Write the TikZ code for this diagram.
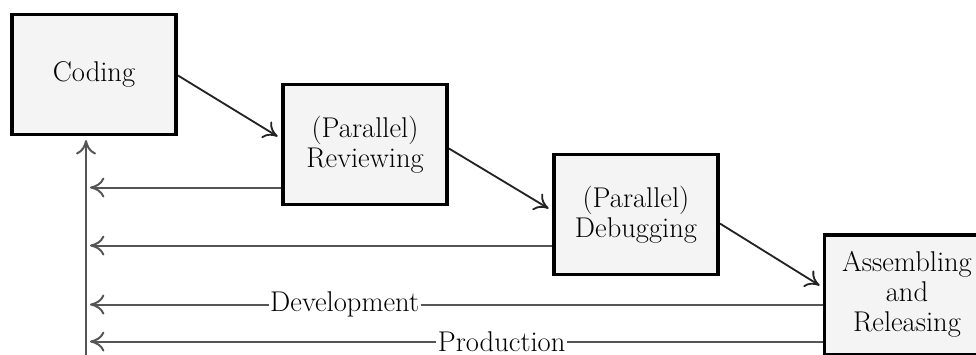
\documentclass[tikz,border=0pt]{standalone}
\usepackage{tikz}
\usetikzlibrary{
  arrows.meta,
  positioning,
  calc
}
\definecolor{StageFill}{RGB}{244,244,244}
\definecolor{FlowGray}{RGB}{35,35,35}
\definecolor{BackGray}{RGB}{85,85,85}
\tikzset{
  stage/.style={
    draw=black,
    fill=StageFill,
    line width=2.5pt,
    minimum width=4.11cm,
    minimum height=2.99cm,
    align=center,
    inner sep=0pt,
    font=\fontsize{20.3}{21.5}\selectfont
  },
  flow/.style={-{Computer Modern Rightarrow[length=3.4mm,width=4.8mm]},line width=1.3pt,draw=FlowGray,shorten >=0.1cm},
  feedback/.style={-{Computer Modern Rightarrow[length=3.6mm,width=5mm]},line width=1.4pt,draw=BackGray,shorten >=0.1cm},
  tag/.style={fill=white,inner xsep=1pt,inner ysep=0pt,font=\fontsize{20.3}{21.5}\selectfont}
}

\begin{document}
\begin{tikzpicture}[x=0.025cm,y=-0.025cm,node distance=2.575cm]
  \useasboundingbox (0,0) rectangle (976,355);
  \clip (0,0) rectangle (976,355);

  \node[stage] (coding) at (94,74.5) {Coding};
  \node[stage, right=of coding, yshift=-1.75cm] (review) {(Parallel)\\Reviewing};
  \node[stage, right=of review, yshift=-1.75cm] (debug) {(Parallel)\\Debugging};
  \node[stage, right=of debug, yshift=-2cm] (release) {Assembling\\and\\Releasing};

  % forward steps
  \draw[flow] ($(coding.east)+(0,1)$) -- ($(review.west)+(0,-6)$);
  \draw[flow] ($(review.east)+(0,4)$) -- ($(debug.west)+(0,-4)$);
  \draw[flow] ($(debug.east)+(0,9)$) -- ($(release.west)+(0,-7)$);

  % return line back to coding
  \coordinate (bus) at ($(coding.south)+(-8,230)$);
  \draw[feedback] (bus) -- (bus |- coding.south);

  \draw[feedback] ($(review.west)+(0,43)$) coordinate (rv) -- (rv -| bus);
  \draw[feedback] ($(debug.west)+(0,31)$) coordinate (dv) -- (dv -| bus);
  \draw[feedback] ($(release.west)+(0,10)$) coordinate (dev) -- (dev -| bus)
    node[tag,pos=0.649] (devlabel) {Development};
  \draw[feedback] ($(release.west)+(0,47)$) coordinate (prod) -- (prod -| bus)
    node[tag,pos=0.436] (prodlabel) {Production};
\end{tikzpicture}
\end{document}
